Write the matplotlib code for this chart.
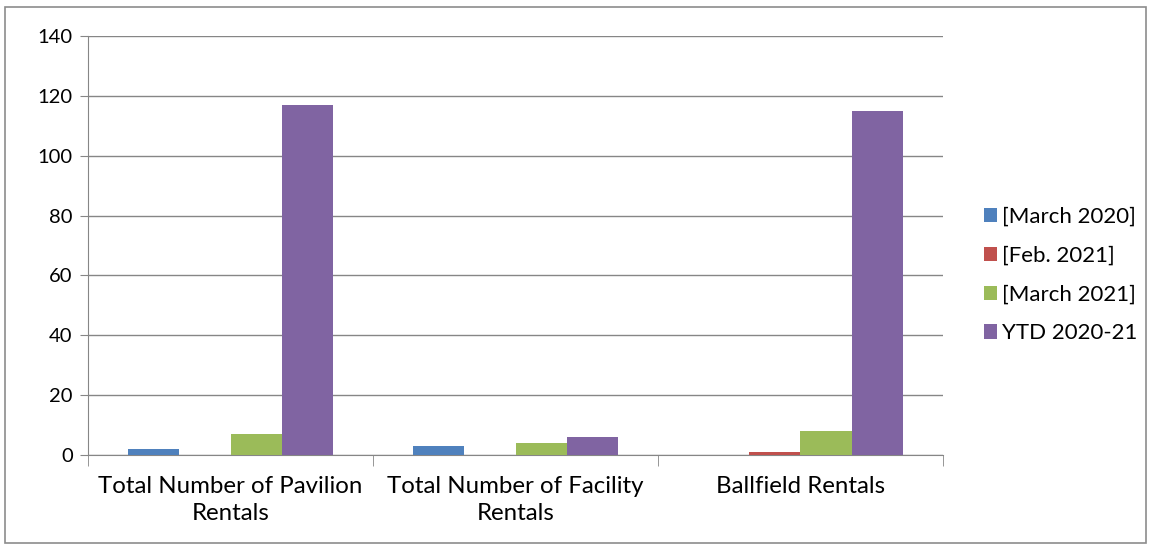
import matplotlib
matplotlib.use("Agg")
import matplotlib.pyplot as plt
import numpy as np
from matplotlib.patches import Rectangle

plt.rcParams['font.family'] = ['Lato', 'DejaVu Sans']

categories = ["Total Number of Pavilion\nRentals", "Total Number of Facility\nRentals", "Ballfield Rentals"]
series_names = ["[March 2020]", "[Feb. 2021]", "[March 2021]", "YTD 2020-21"]
march_2020 = [2, 3, 0]
feb_2021 = [0, 0, 1]
march_2021 = [7, 4, 8]
ytd_2020_21 = [117, 6, 115]
colors = ["#4F81BD", "#C0504D", "#9BBB59", "#8064A2"]
y_ticks = [0, 20, 40, 60, 80, 100, 120, 140]

fig = plt.figure(figsize=(11.53, 5.5), dpi=100)
fig.patches.append(Rectangle((5 / 1153, 7 / 550), 1 - 12 / 1153, 1 - 14 / 550,
                             transform=fig.transFigure, fill=False,
                             edgecolor="#8c8c8c", linewidth=1.2))
ax = fig.add_axes([88 / 1153, 1 - 455 / 550, (943 - 88) / 1153, (455 - 36) / 550])

x = np.arange(len(categories))
width = 0.18
values = [march_2020, feb_2021, march_2021, ytd_2020_21]
for i, (vals, name, c) in enumerate(zip(values, series_names, colors)):
    ax.bar(x + (i - 1.5) * width, vals, width, color=c, label=name, zorder=3)

ax.set_xlim(-0.5, len(categories) - 0.5)
ax.set_ylim(0, 140)
ax.set_yticks(y_ticks)
ax.set_yticklabels([str(t) for t in y_ticks], fontsize=14.5)
ax.yaxis.grid(True, color="#868686", linewidth=1, zorder=0)
ax.tick_params(axis='y', length=6, color="#868686", pad=5)

ax.set_xticks(x)
ax.set_xticklabels(categories, fontsize=17.3, linespacing=1.35)
ax.tick_params(axis='x', length=0, pad=15)
ax.set_xticks(np.arange(len(categories) + 1) - 0.5, minor=True)
ax.tick_params(axis='x', which='minor', length=8, color="#868686")

for side in ["top", "right"]:
    ax.spines[side].set_visible(False)
for side in ["left", "bottom"]:
    ax.spines[side].set_color("#868686")

fig.legend(loc="center left", bbox_to_anchor=(964 / 1153, 0.5), frameon=False,
           fontsize=16, handlelength=0.6, handleheight=0.6, handletextpad=0.2,
           labelspacing=0.85)

fig.savefig("out.png", dpi=100)
